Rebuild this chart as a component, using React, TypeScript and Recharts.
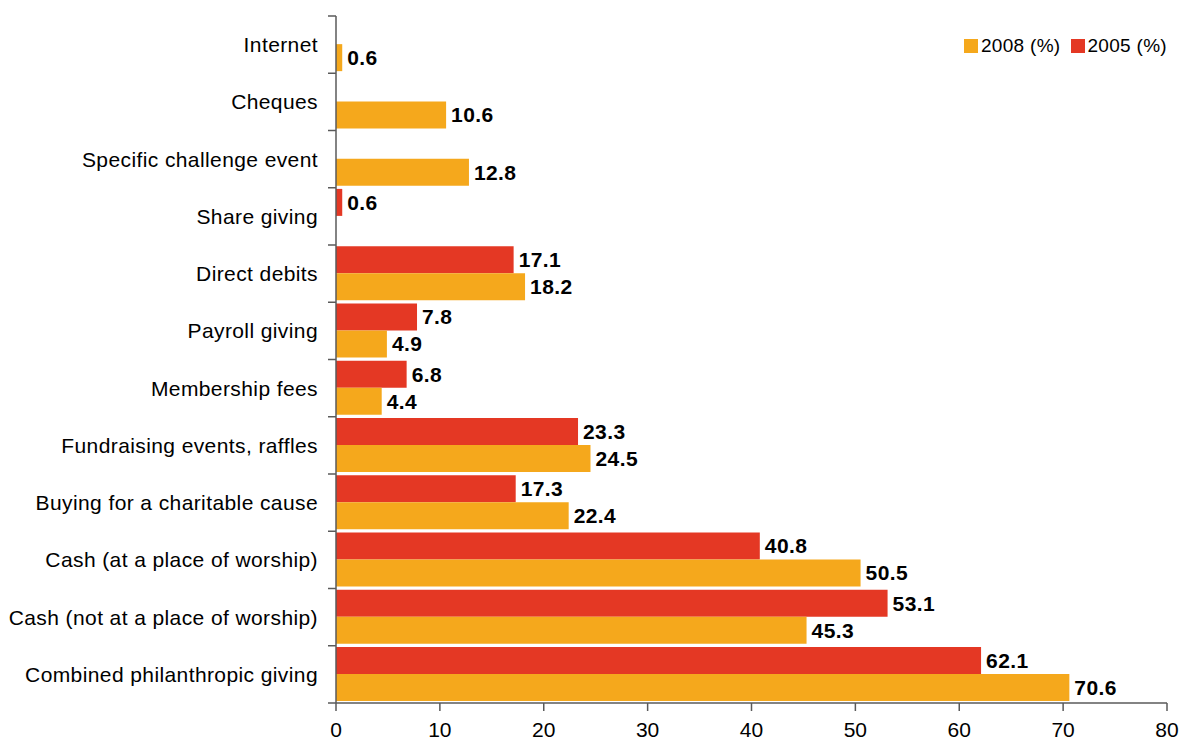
import React from 'react';
import { BarChart, Bar, XAxis, YAxis, LabelList } from 'recharts';

const categories = [
  'Internet',
  'Cheques',
  'Specific challenge event',
  'Share giving',
  'Direct debits',
  'Payroll giving',
  'Membership fees',
  'Fundraising events, raffles',
  'Buying for a charitable cause',
  'Cash (at a place of worship)',
  'Cash (not at a place of worship)',
  'Combined philanthropic giving',
];
const values2005: (number | null)[] = [null, null, null, 0.6, 17.1, 7.8, 6.8, 23.3, 17.3, 40.8, 53.1, 62.1];
const values2008: (number | null)[] = [0.6, 10.6, 12.8, null, 18.2, 4.9, 4.4, 24.5, 22.4, 50.5, 45.3, 70.6];
const xTicks = [0, 10, 20, 30, 40, 50, 60, 70, 80];

const series = [
  { key: 'y2008', name: '2008 (%)', color: '#F5A81C' },
  { key: 'y2005', name: '2005 (%)', color: '#E43824' },
];

const data = categories.map((name, i) => ({ name, y2005: values2005[i], y2008: values2008[i] }));

const FONT = '"Liberation Sans", Arial, Helvetica, sans-serif';
const AXIS = '#5a5a5a';

const W = 1179;
const H = 744;
const MARGIN = { top: 16, right: 12, bottom: 0, left: 0 };
const X_AXIS_H = 41;
const BAND = (H - MARGIN.top - MARGIN.bottom - X_AXIS_H) / categories.length;

const YTick = (props: any) => {
  const { x, y, payload, index } = props;
  const ax = x + 18;
  return (
    <g>
      <text x={x} y={y} textAnchor="end" dominantBaseline="central" fontFamily={FONT} fontSize={21} letterSpacing={0.4} fill="#000">
        {payload.value}
      </text>
      {index === 0 && <line x1={ax - 8} x2={ax} y1={y - BAND / 2} y2={y - BAND / 2} stroke={AXIS} strokeWidth={1.5} />}
      <line x1={ax - 8} x2={ax} y1={y + BAND / 2} y2={y + BAND / 2} stroke={AXIS} strokeWidth={1.5} />
    </g>
  );
};

const ValueLabel = (props: any) => {
  const { x, y, width, height, value } = props;
  if (value === null || value === undefined) return null;
  return (
    <text x={x + width + 5} y={y + height / 2} dominantBaseline="central" fontFamily={FONT} fontWeight="bold" fontSize={21} letterSpacing={0.4} fill="#000">
      {Number(value).toFixed(1)}
    </text>
  );
};

const LegendBox = () => (
  <div
    style={{
      position: 'absolute',
      top: 36,
      right: 12,
      display: 'flex',
      alignItems: 'center',
      fontFamily: FONT,
      fontSize: 19,
      letterSpacing: 0.3,
      color: '#000',
      lineHeight: '20px',
    }}
  >
    {series.map((s) => (
      <div key={s.key} style={{ display: 'flex', alignItems: 'center', marginLeft: 10 }}>
        <span style={{ width: 14, height: 14, background: s.color, display: 'inline-block', marginRight: 3 }} />
        <span>{s.name}</span>
      </div>
    ))}
  </div>
);

export default function App() {
  return (
    <div style={{ position: 'absolute', left: 0, top: 0, width: W, height: H, background: '#fff' }}>
      <BarChart
        width={W}
        height={H}
        data={data}
        layout="vertical"
        margin={MARGIN}
        barCategoryGap="2%"
        barGap={0}
      >
        <XAxis
          type="number"
          domain={[0, 80]}
          ticks={xTicks}
          interval={0}
          height={X_AXIS_H}
          tickSize={8}
          tickMargin={11}
          stroke={AXIS}
          strokeWidth={1.5}
          tick={{ fontFamily: FONT, fontSize: 21, fill: '#000' }}
        />
        <YAxis
          type="category"
          dataKey="name"
          width={336}
          tickLine={false}
          tickSize={8}
          tickMargin={10}
          stroke={AXIS}
          strokeWidth={1.5}
          interval={0}
          tick={<YTick />}
        />
        <Bar dataKey="y2005" name="2005 (%)" fill="#E43824" isAnimationActive={false}>
          <LabelList dataKey="y2005" content={<ValueLabel />} />
        </Bar>
        <Bar dataKey="y2008" name="2008 (%)" fill="#F5A81C" isAnimationActive={false}>
          <LabelList dataKey="y2008" content={<ValueLabel />} />
        </Bar>
      </BarChart>
      <LegendBox />
    </div>
  );
}
